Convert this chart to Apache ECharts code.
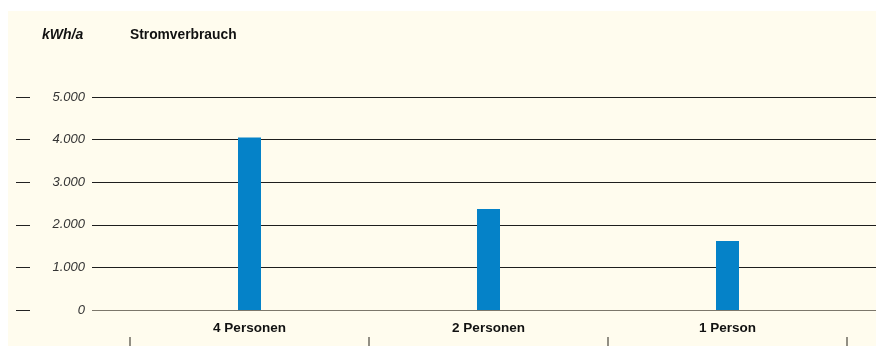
<!DOCTYPE html>
<html>
<head>
<meta charset="utf-8">
<script src="https://cdn.jsdelivr.net/npm/echarts@6/dist/echarts.min.js"></script>
<style>
  html, body { margin: 0; padding: 0; background: #ffffff; }
  #chart { width: 876px; height: 346px; }
</style>
</head>
<body>
<div id="chart"></div>
<script>
// Household electricity consumption by household size
const categories = ['4 Personen', '2 Personen', '1 Person'];
const consumption = [4050, 2370, 1620];
const yTicks = [0, 1000, 2000, 3000, 4000, 5000];

const yMin = yTicks[0];
const yMax = yTicks[yTicks.length - 1];
const yStep = yTicks[1] - yTicks[0];

const fontFamily = '"Liberation Sans", Arial, Helvetica, sans-serif';

function fmt(v) {
  return v.toLocaleString('de-DE');
}

const chart = echarts.init(document.getElementById('chart'), null, { renderer: 'canvas' });

chart.setOption({
  backgroundColor: '#ffffff',
  animation: false,
  graphic: [{
    type: 'rect',
    z: -10,
    silent: true,
    shape: { x: 8, y: 11, width: 868, height: 335 },
    style: { fill: '#fffcee' }
  }],
  title: [
    {
      text: 'kWh/a',
      left: 42, top: 28, padding: 0,
      textStyle: { fontFamily, fontSize: 14, fontWeight: 'bold', fontStyle: 'italic', color: '#111' }
    },
    {
      text: 'Stromverbrauch',
      left: 130, top: 28, padding: 0,
      textStyle: { fontFamily, fontSize: 13.8, fontWeight: 'bold', color: '#111' }
    }
  ],
  grid: [
    { left: 92, right: 0, top: 97, bottom: 36 },
    { left: 130, right: 29, top: 97, bottom: 36 }
  ],
  xAxis: [
    { type: 'value', gridIndex: 0, show: false, min: 0, max: 1 },
    {
      type: 'category', gridIndex: 1, data: categories,
      axisLine: { show: false },
      axisTick: { show: false },
      axisLabel: { margin: 11, fontFamily, fontSize: 13.5, fontWeight: 'bold', color: '#111' }
    },
    {
      type: 'category', gridIndex: 1, data: categories, position: 'bottom', offset: 27,
      axisLine: { show: false },
      axisLabel: { show: false },
      axisTick: { show: true, length: 9, lineStyle: { color: '#6f6b62', width: 1.5 } }
    }
  ],
  yAxis: [
    {
      type: 'value', gridIndex: 0, min: yMin, max: yMax, interval: yStep,
      axisLine: { show: false },
      axisTick: { show: false },
      axisLabel: {
        margin: 7, fontFamily, fontSize: 13, fontStyle: 'italic', color: '#333',
        formatter: fmt
      },
      splitLine: {
        show: true,
        lineStyle: { color: ['#7c776b', '#1e1e1e', '#1e1e1e', '#1e1e1e', '#1e1e1e', '#1e1e1e'], width: 1 }
      }
    },
    {
      type: 'value', gridIndex: 0, min: yMin, max: yMax, interval: yStep,
      position: 'left', offset: 62,
      axisLine: { show: false },
      axisLabel: { show: false },
      splitLine: { show: false },
      axisTick: { show: true, length: 14, lineStyle: { color: '#222', width: 1 } }
    },
    {
      type: 'value', gridIndex: 1, min: yMin, max: yMax, interval: yStep, show: false
    }
  ],
  series: [
    {
      type: 'line', xAxisIndex: 0, yAxisIndex: 0, data: [], silent: true
    },
    {
      type: 'bar', xAxisIndex: 1, yAxisIndex: 2,
      data: consumption,
      barWidth: 23,
      itemStyle: { color: '#0582c8' }
    }
  ]
});
</script>
</body>
</html>
